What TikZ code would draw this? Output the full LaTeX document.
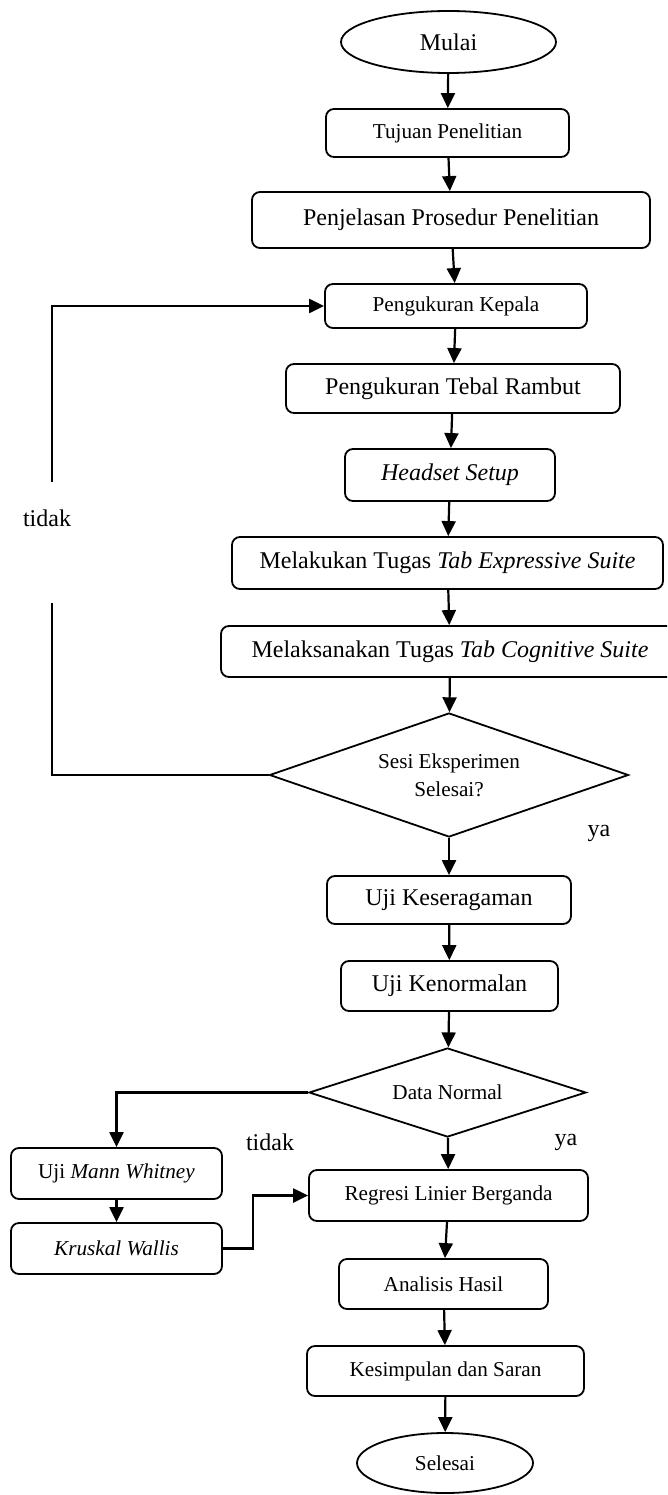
\documentclass[tikz,border=0pt]{standalone}
\usepackage{fontspec}
\setmainfont{Liberation Serif}
\usetikzlibrary{shapes.geometric,arrows.meta}
\begin{document}
\begin{tikzpicture}[x=1pt,y=-1pt,
  box/.style={draw, rounded corners=8pt, line width=1.8pt, inner sep=0pt, align=center},
  term/.style={draw, ellipse, line width=1.8pt, inner sep=0pt},
  decision/.style={draw, diamond, line width=1.8pt, inner sep=0pt, align=center},
  sm/.style={font=\fontsize{21.2}{28}\selectfont},
  lg/.style={font=\fontsize{24}{28}\selectfont},
  arr/.style={line width=2.2pt, -{Triangle[length=15pt,width=14pt]}},
  ln/.style={line width=2.2pt},
  lbl/.style={inner sep=0pt}
]
\useasboundingbox (0,0) rectangle (667,1495);
\clip (0,0) rectangle (667,1495);

% nodes
\node[term, lg, minimum width=215pt, minimum height=62pt] (mulai) at (448.5,42) {Mulai};
\node[box, sm, minimum width=243pt, minimum height=48pt] (tujuan) at (447.5,133) {Tujuan Penelitian};
\node[box, lg, minimum width=398pt, minimum height=56pt] (penjelasan) at (451,220) {Penjelasan Prosedur Penelitian};
\node[box, sm, minimum width=262pt, minimum height=44pt] (kepala) at (456,306) {Pengukuran Kepala};
\node[box, lg, minimum width=334pt, minimum height=49pt] (tebal) at (453,388.5) {Pengukuran Tebal Rambut};
\node[box, lg, minimum width=210pt, minimum height=52pt] (headset) at (450,475) {\textit{Headset Setup}};
\node[box, lg, minimum width=431pt, minimum height=52pt] (ekspresif) at (447.5,563) {Melakukan Tugas \textit{Tab Expressive Suite}};
\node[box, lg, minimum width=458pt, minimum height=51pt] (kognitif) at (450,651.5) {Melaksanakan Tugas \textit{Tab Cognitive Suite}};
\node[decision, sm, aspect=2.9, minimum width=359pt, minimum height=124pt] (sesi) at (449,775) {Sesi Eksperimen\\Selesai?};
\node[lbl, lg] (ya1) at (599,833) {ya};
\node[lbl, lg] (tidak1) at (47,518) {tidak};
\coordinate (fbA) at (52,603);
\coordinate (fbB) at (52,482);

\node[box, lg, minimum width=244pt, minimum height=48pt] (seragam) at (449,900) {Uji Keseragaman};
\node[box, lg, minimum width=217pt, minimum height=50pt] (normalan) at (449.5,986) {Uji Kenormalan};
\node[decision, sm, aspect=3.1, minimum width=277pt, minimum height=89pt] (datanormal) at (447.5,1092.5) {Data Normal};
\node[lbl, lg] (tidak2) at (270,1142) {tidak};
\node[lbl, lg] (ya2) at (566,1142) {ya};
\node[box, sm, minimum width=211pt, minimum height=51pt] (mann) at (116.5,1173.5) {Uji \textit{Mann Whitney}};
\node[box, sm, minimum width=211pt, minimum height=51pt] (kruskal) at (116.5,1248.5) {\textit{Kruskal Wallis}};
\node[box, sm, minimum width=279pt, minimum height=51pt] (regresi) at (448.5,1195.5) {Regresi Linier Berganda};
\node[box, sm, minimum width=209pt, minimum height=50pt] (analisis) at (443.5,1284) {Analisis Hasil};
\node[box, sm, minimum width=277pt, minimum height=50pt] (kesimpulan) at (445.5,1371) {Kesimpulan dan Saran};
\node[term, sm, minimum width=176pt, minimum height=60pt] (selesai) at (445,1463) {Selesai};

% connectors
\draw[arr] (mulai) -- (tujuan);
\draw[arr] (tujuan) -- (penjelasan);
\draw[arr] (penjelasan) -- (kepala);
\draw[arr] (kepala) -- (tebal);
\draw[arr] (tebal) -- (headset);
\draw[arr] (headset) -- (ekspresif);
\draw[arr] (ekspresif) -- (kognitif);
\draw[arr] (kognitif) -- (sesi);
\draw[ln] (sesi.west) -| (fbA);
\draw[arr] (fbB) |- (kepala.west);
\draw[arr] (sesi) -- (seragam);
\draw[arr] (seragam) -- (normalan);
\draw[arr] (normalan) -- (datanormal);
\draw[arr] (datanormal.west) -| (mann);
\draw[arr] (mann) -- (kruskal);
\draw[arr] (kruskal.east) -- ++(30,0) |- (regresi.west);
\draw[arr] (datanormal) -- (regresi);
\draw[arr] (regresi) -- (analisis);
\draw[arr] (analisis) -- (kesimpulan);
\draw[arr] (kesimpulan) -- (selesai);
\end{tikzpicture}
\end{document}
